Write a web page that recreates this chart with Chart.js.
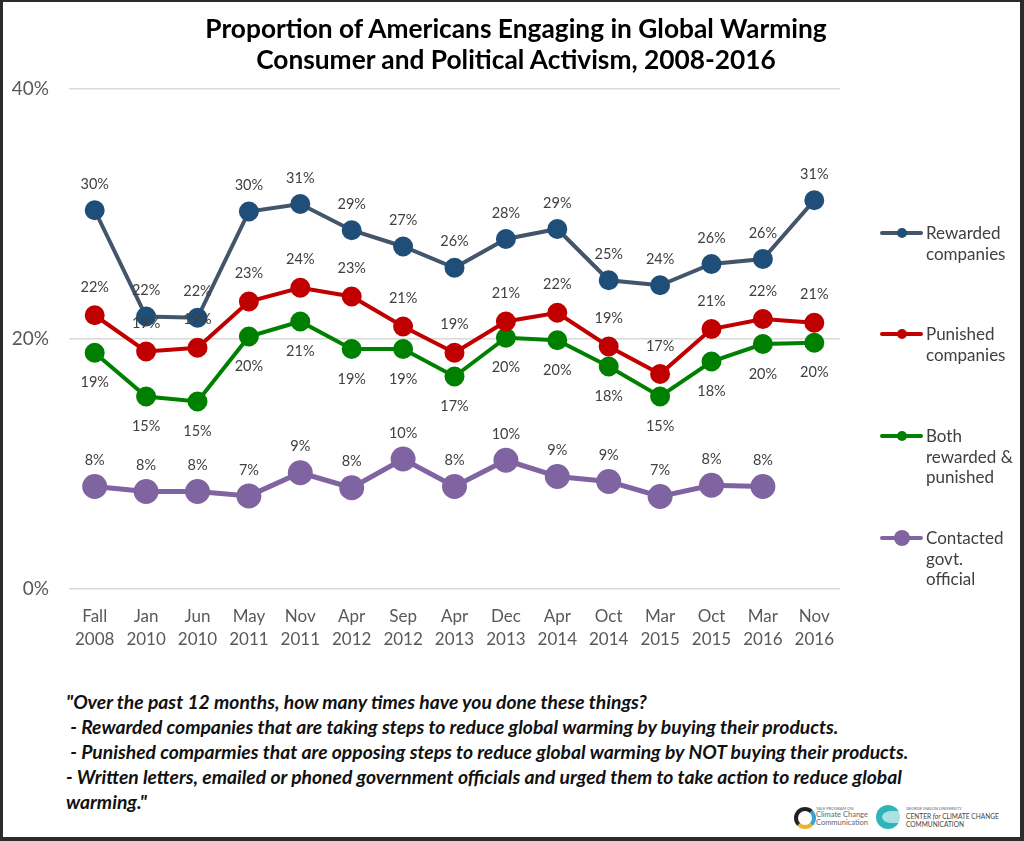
<!DOCTYPE html>
<html lang="en">
<head>
    <meta charset="UTF-8">
    <title>Global Warming Consumer and Political Activism</title>
    <script src="https://cdn.jsdelivr.net/npm/chart.js"></script>
    <style>
        * { font-family: Lato, "Open Sans", sans-serif; }
        body {
            margin: 0;
            padding: 0;
            background: #2b2b2b;
            width: 1024px;
            height: 841px;
            overflow: hidden;
        }
        .frame {
            position: absolute;
            left: 3px;
            top: 2px;
            width: 1017px;
            height: 835px;
            background: #fff;
        }
        #activismChart {
            position: absolute;
            left: -3px;
            top: -2px;
        }
        .title {
            position: absolute;
            left: 113px;
            top: 11px;
            width: 800px;
            text-align: center;
            font-size: 26.3px;
            line-height: 31px;
            font-weight: bold;
            color: #000;
        }
        .legend {
            position: absolute;
            left: 877px;
            top: 0;
        }
        .item {
            position: absolute;
            left: 0;
            width: 140px;
        }
        .sample {
            position: absolute;
            left: 0;
            top: 8px;
            width: 43px;
            height: 4px;
            border-radius: 2px;
        }
        .dot {
            position: absolute;
            border-radius: 50%;
        }
        .txt {
            position: absolute;
            left: 46px;
            top: 0;
            font-size: 17px;
            line-height: 20.5px;
            color: #404040;
            white-space: nowrap;
        }
        .note {
            position: absolute;
            left: 63px;
            top: 687px;
            font-size: 19.3px;
            line-height: 25px;
            font-weight: bold;
            font-style: italic;
            color: #111;
            white-space: nowrap;
        }
        .logos {
            position: absolute;
            left: 787px;
            top: 800px;
            height: 30px;
            width: 210px;
            color: #666;
        }
    </style>
</head>
<body>
<div class="frame">
    <canvas id="activismChart" width="1020" height="662"></canvas>

    <div class="title">Proportion of Americans Engaging in Global Warming<br>Consumer and Political Activism, 2008-2016</div>

    <div class="legend" id="legend"></div>

    <div class="note">
        "Over the past 12 months, how many times have you done these things?<br>
        &nbsp;- Rewarded companies that are taking steps to reduce global warming by buying their products.<br>
        &nbsp;- Punished comparmies that are opposing steps to reduce global warming by NOT buying their products.<br>
        - Written letters, emailed or phoned government officials and urged them to take action to reduce global<br>
        warming."
    </div>

    <div class="logos">
        <div style="position:absolute;left:4px;top:5px;width:14px;height:14px;border-radius:50%;border:4px solid #222;border-right-color:#3aa0d8;border-bottom-color:#f2b12b;"></div>
        <div style="position:absolute;left:26px;top:4px;font-size:4px;line-height:5px;">YALE PROGRAM ON</div>
        <div style="position:absolute;left:26px;top:9px;font-size:7.5px;line-height:8px;">Climate Change<br>Communication</div>
        <div style="position:absolute;left:86px;top:3px;width:24px;height:24px;border-radius:50%;background:#2fb5b8;"></div>
        <div style="position:absolute;left:92px;top:9px;width:18px;height:12px;border-radius:50% 0 0 50%;background:#fff;opacity:0.6;"></div>
        <div style="position:absolute;left:116px;top:4px;font-size:4px;line-height:5px;">GEORGE MASON UNIVERSITY</div>
        <div style="position:absolute;left:116px;top:10px;font-size:6.6px;line-height:8px;color:#444;">CENTER <i>for</i> CLIMATE CHANGE<br>COMMUNICATION</div>
    </div>
</div>

<script>
    // categories (two-line tick labels)
    const periods = [
        ['Fall', '2008'], ['Jan', '2010'], ['Jun', '2010'], ['May', '2011'], ['Nov', '2011'],
        ['Apr', '2012'], ['Sep', '2012'], ['Apr', '2013'], ['Dec', '2013'], ['Apr', '2014'],
        ['Oct', '2014'], ['Mar', '2015'], ['Oct', '2015'], ['Mar', '2016'], ['Nov', '2016']
    ];

    // series values, percent
    const rewarded  = [30.3, 21.8, 21.7, 30.2, 30.8, 28.7, 27.4, 25.7, 28.0, 28.8, 24.7, 24.3, 26.0, 26.4, 31.1];
    const punished  = [21.9, 19.0, 19.3, 23.0, 24.1, 23.4, 21.0, 18.9, 21.4, 22.1, 19.4, 17.2, 20.8, 21.6, 21.3];
    const both      = [18.9, 15.4, 15.0, 20.2, 21.4, 19.2, 19.2, 17.0, 20.1, 19.9, 17.8, 15.4, 18.2, 19.6, 19.7];
    const contacted = [8.2, 7.8, 7.8, 7.45, 9.3, 8.1, 10.4, 8.2, 10.3, 9.0, 8.6, 7.4, 8.3, 8.2, null];

    const yTicks = [0, 20, 40];

    const seriesNames = [
        ['Rewarded', 'companies'],
        ['Punished', 'companies'],
        ['Both', 'rewarded &', 'punished'],
        ['Contacted', 'govt.', 'official']
    ];

    const lineColors  = ['#44546a', '#c00000', '#008000', '#8064a2'];
    const pointColors = ['#1f4e79', '#c00000', '#008000', '#8064a2'];
    const pointSizes  = [8, 8, 8, 10];
    const lineWidths  = [4, 4, 4, 5];
    const labelShift  = [-26, -28, 30, -26]; // data label offset from point

    // legend rows, top position of each entry
    const legendTops = [221, 322, 424, 526];

    // draw the percent labels next to each point
    const pointLabels = {
        id: 'pointLabels',
        afterDatasetsDraw(chart) {
            const ctx = chart.ctx;
            ctx.save();
            ctx.font = '14.5px Lato';
            ctx.fillStyle = '#404040';
            ctx.textAlign = 'center';
            ctx.textBaseline = 'middle';
            chart.data.datasets.forEach((ds, i) => {
                chart.getDatasetMeta(i).data.forEach((pt, j) => {
                    const v = ds.data[j];
                    if (v == null) return;
                    ctx.fillText(Math.round(v) + '%', pt.x, pt.y + labelShift[i]);
                });
            });
            ctx.restore();
        }
    };

    const datasets = [rewarded, punished, both, contacted].map((vals, i) => ({
        label: seriesNames[i].join(' '),
        data: vals,
        borderColor: lineColors[i],
        backgroundColor: pointColors[i],
        pointBackgroundColor: pointColors[i],
        pointBorderColor: pointColors[i],
        borderWidth: lineWidths[i],
        pointRadius: pointSizes[i],
        pointHoverRadius: pointSizes[i],
        tension: 0,
        spanGaps: false
    }));

    const ctx = document.getElementById('activismChart').getContext('2d');
    const chart = new Chart(ctx, {
        type: 'line',
        data: { labels: periods, datasets: datasets },
        plugins: [pointLabels],
        options: {
            responsive: false,
            animation: false,
            layout: { padding: { left: 6, right: 180, top: 89, bottom: 0 } },
            plugins: {
                legend: { display: false },
                tooltip: { enabled: false },
                title: { display: false }
            },
            scales: {
                x: {
                    offset: true,
                    grid: { display: false },
                    border: { display: false },
                    ticks: {
                        color: '#595959',
                        font: { family: 'Lato', size: 17, lineHeight: 1.35 },
                        padding: 8,
                        maxRotation: 0,
                        autoSkip: false
                    },
                    afterFit(scale) { scale.height = 73; }
                },
                y: {
                    min: 0,
                    max: 40,
                    afterBuildTicks(scale) {
                        scale.ticks = yTicks.map(v => ({ value: v }));
                    },
                    grid: { color: '#d9d9d9', lineWidth: 1.5, drawTicks: false },
                    border: { display: false },
                    ticks: {
                        color: '#595959',
                        font: { family: 'Lato', size: 19 },
                        padding: 20,
                        callback: v => v + '%'
                    },
                    afterFit(scale) { scale.width = 63; }
                }
            }
        }
    });

    // legend on the right
    const legend = document.getElementById('legend');
    seriesNames.forEach((lines, i) => {
        const item = document.createElement('div');
        item.className = 'item';
        item.style.top = legendTops[i] + 'px';
        const r = i === 3 ? 8 : 5;
        item.innerHTML =
            '<div class="sample" style="background:' + lineColors[i] + '"></div>' +
            '<div class="dot" style="left:' + (22 - r) + 'px;top:' + (10 - r) + 'px;width:' + (2 * r) +
            'px;height:' + (2 * r) + 'px;background:' + pointColors[i] + '"></div>' +
            '<div class="txt">' + lines.join('<br>') + '</div>';
        legend.appendChild(item);
    });
</script>
</body>
</html>
